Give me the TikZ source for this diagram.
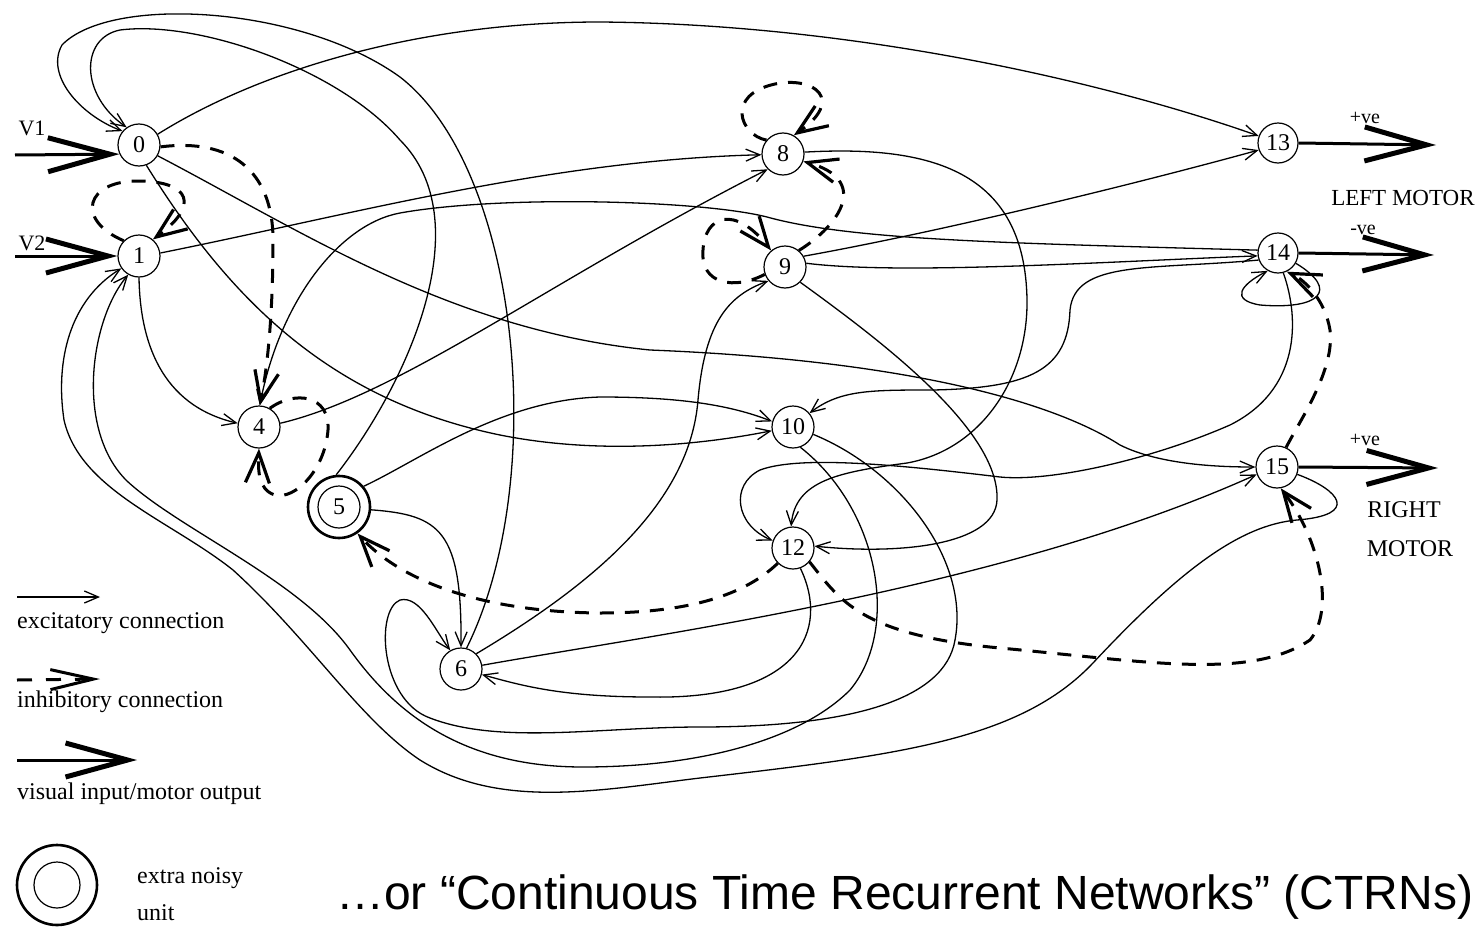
\documentclass[tikz,border=0pt]{standalone}
\usepackage{fontspec}
\setmainfont{Liberation Serif}
\newfontfamily\capsans{Liberation Sans}
\usetikzlibrary{arrows.meta}
\begin{document}
\begin{tikzpicture}[x=1pt,y=-1pt,
  unit/.style={circle,draw,line width=1.2pt,minimum size=42pt,inner sep=0pt,font=\fontsize{24}{24}\selectfont},
  exc/.style={line width=1.3pt,-{Straight Barb[length=14pt,width=12pt,line width=1.3pt]}},
  inh/.style={line width=3pt,dash pattern=on 14pt off 11pt,-{Straight Barb[length=30pt,width=24pt,line width=3.2pt]}},
  io/.style={line width=3pt,-{Straight Barb[length=62pt,width=34pt,line width=5pt]}},
  lbl/.style={inner sep=0pt,font=\fontsize{23}{23}\selectfont},
  leg/.style={inner sep=0pt,anchor=base west,font=\fontsize{24}{24}\selectfont}]
\useasboundingbox (0,0) rectangle (1477,934);
\fill[white] (0,0) rectangle (1477,934);
% units
\node[unit] (n0) at (139,145) {0};
\node[unit] (n1) at (139,256) {1};
\node[unit] (n4) at (259,427) {4};
\node[unit] (n5) at (339,507) {5};
\node[circle,draw,line width=2.6pt,minimum size=62pt,inner sep=0pt] (n5o) at (339,507) {};
\node[unit] (n6) at (461,669) {6};
\node[unit] (n8) at (783,154) {8};
\node[unit] (n9) at (785,267) {9};
\node[unit] (n10) at (793,427) {10};
\node[unit] (n12) at (793,548) {12};
\node[unit,minimum size=40pt] (n13) at (1278,143) {13};
\node[unit,minimum size=40pt] (n14) at (1278,253) {14};
\node[unit] (n15) at (1277,467) {15};
% inputs / outputs
\coordinate (i0) at (15,155);
\coordinate (i1) at (15,256);
\coordinate (o13) at (1436,145);
\coordinate (o14) at (1434,255);
\coordinate (o15) at (1438,468);
\draw[io] (i0) -- (n0.205);
\draw[io] (i1) -- (n1.west);
\draw[io] (n13.east) -- (o13);
\draw[io] (n14.east) -- (o14);
\draw[io] (n15.east) -- (o15);
\node[lbl,font=\fontsize{22}{22}\selectfont] (v1) at (32,128) {V1};
\node[lbl,font=\fontsize{22}{22}\selectfont] (v2) at (32,243) {V2};
\node[lbl,font=\fontsize{20}{20}\selectfont] (p13) at (1365,118) {+ve};
\node[lbl,font=\fontsize{20}{20}\selectfont] (m14) at (1363,230) {-ve};
\node[lbl,font=\fontsize{20}{20}\selectfont] (p15) at (1365,440) {+ve};
\node[lbl] (lm) at (1403,198) {LEFT MOTOR};
\node[lbl,font=\fontsize{24}{24}\selectfont] (rm1) at (1404,510) {RIGHT};
\node[lbl,font=\fontsize{24}{24}\selectfont] (rm2) at (1410,549) {MOTOR};
% excitatory connections
\draw[exc] (n0.30) .. controls (260,70) and (420,22) .. (600,22) .. controls (850,24) and (1100,80) .. (n13.160);
\draw[exc] (n6.75) .. controls (550,480) and (520,170) .. (400,77) .. controls (300,5) and (110,-5) .. (62,45) .. controls (45,75) and (80,115) .. (n0.140);
\draw[exc] (n5o.95) .. controls (410,380) and (480,220) .. (400,140) .. controls (340,70) and (200,20) .. (120,30) .. controls (80,38) and (80,95) .. (n0.125);
\draw[exc] (n1.270) .. controls (140,340) and (160,405) .. (n4.170);
\draw[exc] (n1.8) .. controls (350,215) and (550,160) .. (n8.182);
\draw[exc] (n4.10) .. controls (400,395) and (550,280) .. (n8.225);
\draw[exc] (n14.172) .. controls (1000,243) and (850,240) .. (767,217) .. controls (700,200) and (500,195) .. (400,213) .. controls (340,224) and (280,300) .. (n4.88);
\draw[exc] (n0.290) .. controls (230,300) and (330,400) .. (500,435) .. controls (600,455) and (700,445) .. (n10.190);
\draw[exc] (n0.330) .. controls (300,230) and (450,330) .. (650,350) .. controls (900,360) and (1050,400) .. (1120,445) .. controls (1160,465) and (1220,467) .. (n15.180);
\draw[exc] (n5o.40) .. controls (420,460) and (500,400) .. (600,397) .. controls (680,397) and (730,405) .. (n10.165);
\draw[exc] (n5o.355) .. controls (440,515) and (462,530) .. (n6.90);
\draw[exc] (n6.45) .. controls (600,580) and (690,500) .. (698,400) .. controls (705,320) and (730,295) .. (n9.220);
\draw[exc] (n6.10) .. controls (650,635) and (1000,590) .. (n15.200);
\draw[exc] (n12.290) .. controls (830,630) and (800,700) .. (650,697) .. controls (560,697) and (520,685) .. (n6.345);
\draw[exc] (n10.340) .. controls (900,470) and (970,560) .. (955,640) .. controls (945,700) and (850,727) .. (700,727) .. controls (600,727) and (500,745) .. (430,718) .. controls (380,700) and (375,610) .. (400,600) .. controls (420,595) and (435,630) .. (n6.120);
\draw[exc] (n10.290) .. controls (880,510) and (900,630) .. (850,690) .. controls (800,740) and (700,767) .. (583,767) .. controls (470,767) and (400,720) .. (350,650) .. controls (300,580) and (180,530) .. (127,481) .. controls (75,430) and (90,320) .. (n1.240);
\draw[exc] (n15.340) .. controls (1340,490) and (1360,515) .. (1297,520) .. controls (1240,525) and (1180,570) .. (1093,663) .. controls (1020,740) and (900,755) .. (700,778) .. controls (600,790) and (500,810) .. (420,760) .. controls (360,720) and (310,640) .. (233,570) .. controls (170,520) and (80,490) .. (64,420) .. controls (55,360) and (70,300) .. (n1.215);
\draw[exc] (n8.5) .. controls (930,145) and (1025,170) .. (1027,300) .. controls (1028,380) and (980,450) .. (907,463) .. controls (840,472) and (795,480) .. (n12.95);
\draw[exc] (n14.285) .. controls (1300,320) and (1300,390) .. (1230,425) .. controls (1150,460) and (1050,482) .. (1000,477) .. controls (900,465) and (800,455) .. (760,470) .. controls (730,485) and (735,525) .. (n12.160);
\draw[exc] (n9.315) .. controls (880,340) and (1000,430) .. (997,500) .. controls (995,545) and (900,555) .. (n12.5);
\draw[exc] (n9.30) .. controls (950,230) and (1150,180) .. (n13.200);
\draw[exc] (n9.10) .. controls (900,275) and (1100,262) .. (n14.188);
\draw[exc] (n14.200) .. controls (1150,270) and (1075,260) .. (1070,310) .. controls (1068,370) and (1030,388) .. (933,390) .. controls (870,390) and (840,390) .. (n10.40);
\draw[exc] (n14.330) .. controls (1340,290) and (1320,310) .. (1260,305) .. controls (1230,300) and (1240,285) .. (n14.240);
% inhibitory connections
\draw[inh] (n0.355) .. controls (230,138) and (273,170) .. (273,240) .. controls (273,330) and (265,380) .. (n4.88);
\draw[inh] (n1.135) .. controls (75,220) and (85,180) .. (140,181) .. controls (190,182) and (200,205) .. (n1.50);
\draw[inh] (n4.60) .. controls (295,390) and (330,395) .. (328,430) .. controls (325,470) and (295,500) .. (275,495) .. controls (258,490) and (258,470) .. (n4.270);
\draw[inh] (n8.140) .. controls (740,135) and (725,95) .. (775,84) .. controls (815,76) and (845,100) .. (n8.60);
\draw[inh] (n9.50) .. controls (840,225) and (870,180) .. (n8.340);
\draw[inh] (n9.200) .. controls (735,290) and (700,285) .. (703,250) .. controls (705,215) and (735,205) .. (n9.130);
\draw[inh] (n12.225) .. controls (750,590) and (700,613) .. (600,613) .. controls (480,612) and (400,580) .. (n5o.305);
\draw[inh] (n12.320) .. controls (840,600) and (860,635) .. (1000,648) .. controls (1150,662) and (1250,680) .. (1310,640) .. controls (1335,610) and (1320,540) .. (n15.280);
\draw[inh] (n15.65) .. controls (1300,420) and (1335,370) .. (1330,330) .. controls (1325,300) and (1305,280) .. (n14.295);
% legend
\coordinate (la) at (17,597); \coordinate (lb) at (100,597);
\draw[exc] (la) -- (lb);
\node[leg] (t1) at (17,628) {excitatory connection};
\coordinate (lc) at (17,680); \coordinate (ld) at (100,679);
\draw[line width=3pt,dash pattern=on 15pt off 14pt,-{Straight Barb[length=43pt,width=20pt,line width=3pt]}] (lc) -- (ld);
\node[leg] (t2) at (17,707) {inhibitory connection};
\coordinate (le) at (17,760); \coordinate (lf) at (137,760);
\draw[io] (le) -- (lf);
\node[leg] (t3) at (17,799) {visual input/motor output};
\node[circle,draw,line width=2.6pt,minimum size=80pt,inner sep=0pt] (nz) at (57,885) {};
\node[circle,draw,line width=1.2pt,minimum size=46pt,inner sep=0pt] (nzi) at (57,885) {};
\node[leg] (t4) at (137,883) {extra noisy};
\node[leg] (t5) at (137,920) {unit};
% caption
\node[inner sep=0pt,anchor=base west,font=\capsans\fontsize{48}{50}\selectfont] (cap) at (336,909) {…or “Continuous Time Recurrent Networks” (CTRNs)};
\end{tikzpicture}
\end{document}
